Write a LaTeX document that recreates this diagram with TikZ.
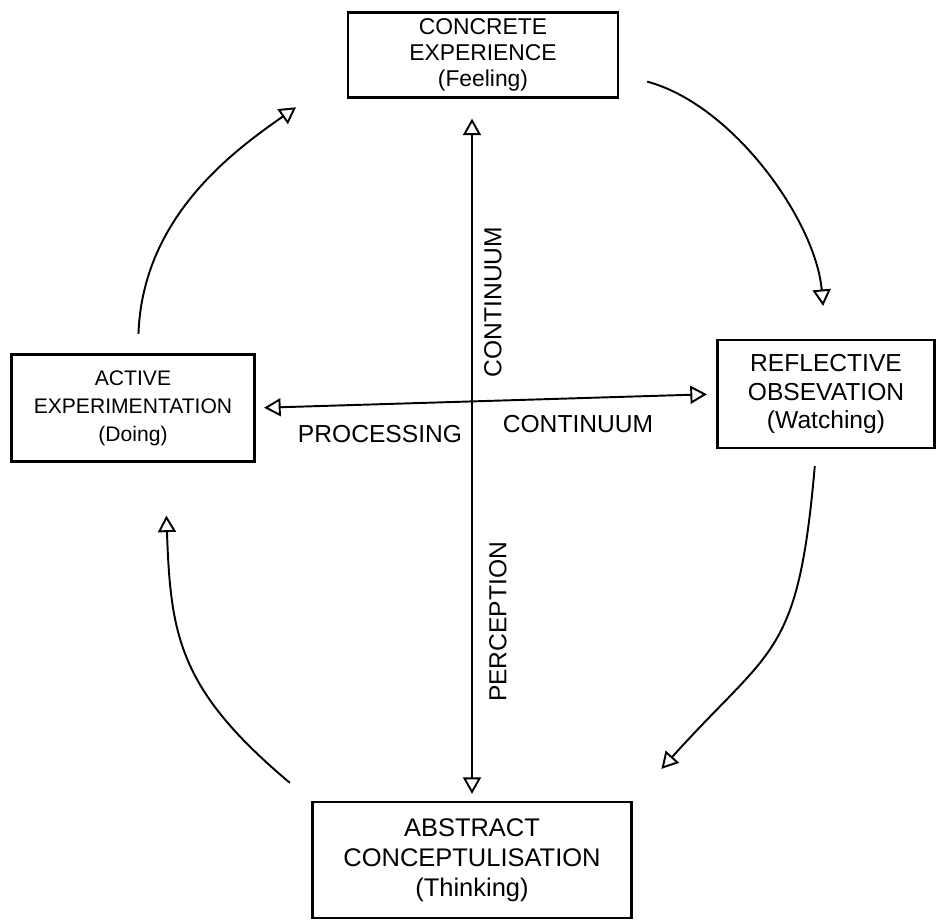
\documentclass[tikz,border=0pt]{standalone}
\usepackage{fontspec}
\setmainfont{Liberation Sans}
\usepackage{tikz}
\usetikzlibrary{arrows.meta,calc}

\tikzset{
  stage/.style={draw,line width=1.3pt,align=center,inner sep=0pt},
  cycarrow/.style={-{Triangle[open,length=3.3mm,width=3.6mm,line width=1.1pt]},line width=1.1pt},
  axisarrow/.style={{Triangle[open,length=3.3mm,width=3.6mm,line width=1.1pt]}-{Triangle[open,length=3.3mm,width=3.6mm,line width=1.1pt]},line width=1.1pt},
  axislabel/.style={font=\fontsize{14}{16}\selectfont,inner sep=0pt}
}

\begin{document}
\begin{tikzpicture}
\useasboundingbox (0,0) rectangle (18.76,18.48);
% the four stages of the cycle
\node[stage,minimum width=5.4cm,minimum height=1.7cm,font=\fontsize{13}{15}\selectfont] (CE) at (9.66,17.38) {CONCRETE\\EXPERIENCE\\(Feeling)};
\node[stage,minimum width=4.34cm,minimum height=2.16cm,font=\fontsize{14}{16}\selectfont] (RO) at (16.52,10.6) {REFLECTIVE\\OBSEVATION\\(Watching)};
\node[stage,minimum width=6.38cm,minimum height=2.32cm,font=\fontsize{14.5}{17}\selectfont] (AC) at (9.44,1.28) {ABSTRACT\\CONCEPTULISATION\\(Thinking)};
\node[stage,minimum width=4.86cm,minimum height=2.14cm,font=\fontsize{12}{16}\selectfont] (AE) at (2.66,10.32) {ACTIVE\\EXPERIMENTATION\\(Doing)};

% the two continua
\draw[axisarrow,shorten <=1.4mm,shorten >=4mm] (AC.north) -- (AC.north |- CE.south);
\draw[axisarrow,shorten <=1.7mm,shorten >=1.9mm] (AE.east) -- (RO.west);
\node[axislabel,rotate=90] (ContVert) at (9.86,12.44) {CONTINUUM};
\node[axislabel,rotate=90] (Perception) at (9.96,6.04) {PERCEPTION};
\node[axislabel] (Processing) at (7.6,9.8) {PROCESSING};
\node[axislabel] (ContHoriz) at (11.56,10.0) {CONTINUUM};

% the cycle
\draw[cycarrow,shorten <=5.8mm,shorten >=6.6mm] (CE.-8) to[out=-15,in=95,looseness=0.9] (RO.north);
\draw[cycarrow,shorten <=3.4mm,shorten >=8.6mm] (RO.-100) to[out=-95,in=48,looseness=1.35] (AC.north east);
\draw[cycarrow,shorten <=5.6mm,shorten >=10.6mm] (AC.north west) to[out=140,in=-88,looseness=1.2] (AE.-60);
\draw[cycarrow,shorten <=3.9mm,shorten >=12.4mm] (AE.85) to[out=88,in=-145] (CE.187);
\end{tikzpicture}
\end{document}
